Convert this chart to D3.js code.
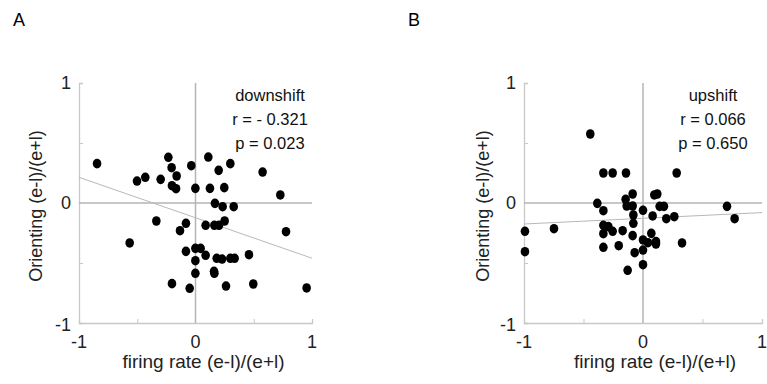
<!DOCTYPE html>
<html>
<head>
  <title>Orienting vs firing rate</title>
  <script src="https://d3js.org/d3.v7.min.js"></script>
  <style>
    body { margin: 0; background: #fff; font-family: "Liberation Sans", Arial, sans-serif; }
  </style>
</head>
<body>
<div id="chart"></div>
<script>
  // panel A: downshift
  let downX = [-0.845, -0.233, -0.205, -0.162, -0.502, -0.431, -0.299, -0.202, -0.167, -0.036,
    0.110, 0.199, 0.299, -0.001, 0.124, 0.247, 0.576, 0.728, 0.167, 0.233,
    0.328, -0.336, -0.082, -0.133, 0.087, 0.162, 0.202, 0.250, 0.777, -0.565,
    -0.082, -0.001, 0.044, 0.087, -0.001, 0.182, 0.228, 0.299, 0.336, 0.459,
    -0.001, 0.159, 0.162, -0.202, -0.050, 0.262, 0.496, 0.954];
  let downY = [0.328, 0.381, 0.294, 0.225, 0.183, 0.214, 0.197, 0.144, 0.119, 0.311,
    0.383, 0.272, 0.328, 0.122, 0.122, 0.128, 0.258, 0.067, -0.003, -0.031,
    -0.031, -0.150, -0.169, -0.231, -0.186, -0.186, -0.186, -0.150, -0.239, -0.333,
    -0.403, -0.378, -0.378, -0.436, -0.481, -0.461, -0.467, -0.461, -0.461, -0.431,
    -0.586, -0.569, -0.586, -0.672, -0.711, -0.692, -0.675, -0.708];
  let downFit = [[-1, 0.214], [1, -0.46]];

  // panel B: upshift
  let upX = [-0.443, -0.333, -0.255, -0.143, 0.283, -0.384, -0.333, -0.087, -0.146, -0.137,
    -0.087, -0.081, -0.081, 0.000, 0.081, 0.095, 0.120, 0.140, 0.176, 0.196,
    0.263, 0.706, 0.770, -0.992, -0.992, -0.748, -0.333, -0.291, -0.255, -0.333,
    -0.171, -0.087, -0.333, -0.204, -0.070, 0.000, 0.000, 0.042, 0.070, 0.109,
    0.109, 0.328, -0.129, 0.000];
  let upY = [0.575, 0.250, 0.250, 0.250, 0.250, -0.003, -0.064, 0.075, 0.031, -0.025,
    -0.025, -0.100, -0.169, -0.061, -0.108, 0.067, 0.075, -0.028, -0.028, -0.131,
    -0.114, -0.028, -0.131, -0.236, -0.406, -0.214, -0.186, -0.197, -0.236, -0.256,
    -0.231, -0.272, -0.369, -0.356, -0.414, -0.308, -0.392, -0.331, -0.253, -0.322,
    -0.342, -0.333, -0.561, -0.514];
  let upFit = [[-1, -0.175], [1, -0.08]];

  let tickValues = [-1, 0, 1];
  let minorTicks = [-0.5, 0.5];

  let width = 767, height = 384;
  let svg = d3.select('#chart').append('svg')
    .attr('width', width)
    .attr('height', height);

  let panels = [
    { letter: 'A', lx: 13, left: 79, right: 312, xs: downX, ys: downY, fit: downFit,
      notes: ['downshift', 'r = - 0.321', 'p = 0.023'], noteX: 270, ylabelX: 42, xlabelShift: 8 },
    { letter: 'B', lx: 408, left: 524, right: 762, xs: upX, ys: upY, fit: upFit,
      notes: ['upshift', 'r = 0.066', 'p = 0.650'], noteX: 713, ylabelX: 489, xlabelShift: 12 }
  ];
  let plotTop = 83, plotBottom = 323;

  panels.forEach(p => {
    let x = d3.scaleLinear().domain([-1, 1]).range([p.left, p.right]);
    let y = d3.scaleLinear().domain([-1, 1]).range([plotBottom, plotTop]);
    let g = svg.append('g');

    // panel letter
    g.append('text').attr('x', p.lx).attr('y', 26)
      .style('font-size', '18px').text(p.letter);

    // axes (ticks point inward, no labels from the axis itself)
    let xAxis = g.append('g').attr('transform', 'translate(0,' + plotBottom + ')')
      .call(d3.axisTop(x).tickValues(minorTicks).tickSize(4).tickFormat(''));
    let yAxis = g.append('g').attr('transform', 'translate(' + p.left + ',0)')
      .call(d3.axisRight(y).tickValues(minorTicks).tickSize(4).tickFormat(''));
    [xAxis, yAxis].forEach(a => {
      a.select('.domain').attr('stroke', '#c8c8c8').attr('stroke-width', 1.3);
      a.selectAll('.tick line').attr('stroke', '#c8c8c8');
    });

    // zero lines
    g.append('line').attr('x1', x(-1)).attr('x2', x(1)).attr('y1', y(0)).attr('y2', y(0))
      .attr('stroke', '#b4b4b4').attr('stroke-width', 1.5);
    g.append('line').attr('x1', x(0)).attr('x2', x(0)).attr('y1', y(1)).attr('y2', y(-1))
      .attr('stroke', '#b4b4b4').attr('stroke-width', 1.5);

    // tick labels
    g.selectAll('.xt').data(tickValues).enter().append('text')
      .attr('x', d => x(d)).attr('y', 348)
      .attr('text-anchor', 'middle')
      .style('font-size', '18px').style('fill', '#222')
      .text(d => d);
    g.selectAll('.yt').data(tickValues).enter().append('text')
      .attr('x', p.left - 8).attr('y', d => y(d) + (d === -1 ? 8 : 6))
      .attr('text-anchor', 'end')
      .style('font-size', '18px').style('fill', '#222')
      .text(d => d);

    // axis titles
    g.append('text')
      .attr('x', (p.left + p.right) / 2 + p.xlabelShift).attr('y', 368)
      .attr('text-anchor', 'middle')
      .style('font-size', '19px').style('fill', '#222')
      .text('firing rate (e-l)/(e+l)');
    g.append('text')
      .attr('transform', 'translate(' + p.ylabelX + ',' + 206 + ') rotate(-90)')
      .attr('text-anchor', 'middle')
      .style('font-size', '18px').style('fill', '#222')
      .text('Orienting (e-l)/(e+l)');

    // regression line
    g.append('line')
      .attr('x1', x(p.fit[0][0])).attr('y1', y(p.fit[0][1]))
      .attr('x2', x(p.fit[1][0])).attr('y2', y(p.fit[1][1]))
      .attr('stroke', '#b8b8b8').attr('stroke-width', 1);

    // points
    g.selectAll('.pt').data(p.xs).enter().append('ellipse')
      .attr('cx', (d, i) => x(d)).attr('cy', (d, i) => y(p.ys[i]))
      .attr('rx', 4.3).attr('ry', 4.8)
      .attr('fill', '#000');

    // annotation
    g.selectAll('.note').data(p.notes).enter().append('text')
      .attr('x', p.noteX).attr('y', (d, i) => 101 + i * 24)
      .attr('text-anchor', 'middle')
      .style('font-size', '16.5px').style('fill', '#111')
      .text(d => d);
  });
</script>
</body>
</html>
